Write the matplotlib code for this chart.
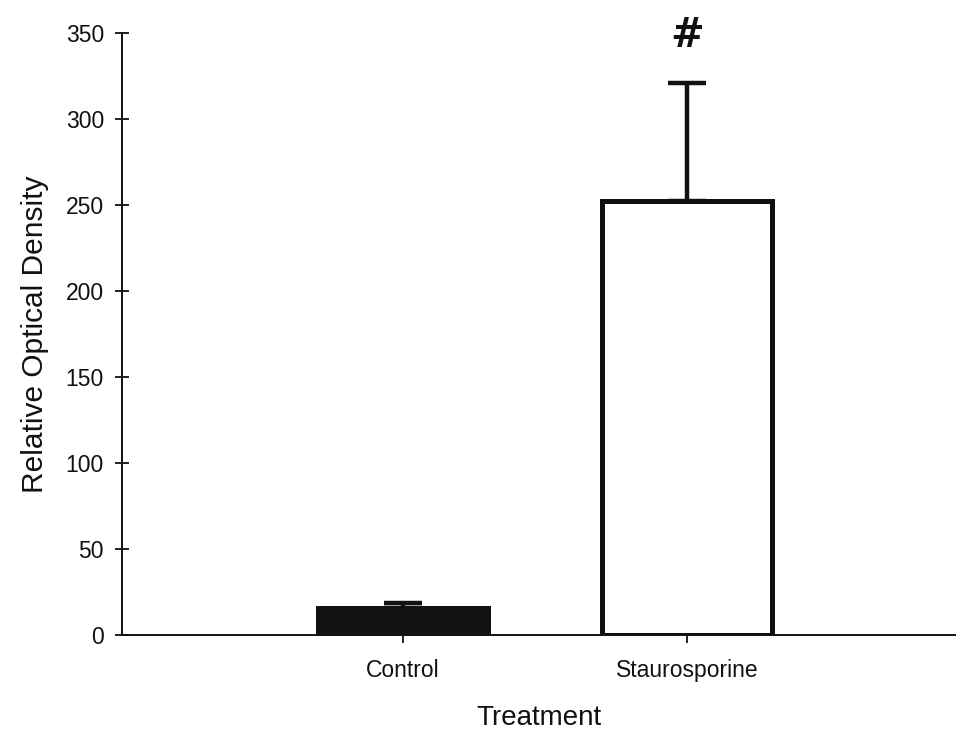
import numpy as np
import matplotlib
matplotlib.use("Agg")
import matplotlib.pyplot as plt

plt.rcParams['font.family'] = ['Liberation Sans', 'DejaVu Sans']

# group means and upper SEM
groups = ["Control", "Staurosporine"]
means = [15.7, 252.3]
errs = [3.0, 68.7]
colors = ["#111111", "white"]
yticks = [0, 50, 100, 150, 200, 250, 300, 350]

fig = plt.figure(figsize=(9.56, 7.32), dpi=100)
ax = fig.add_axes([0.1276, 0.1325, 0.8715, 0.8224])

x = np.array([1, 2])
for xi, m, e, c in zip(x, means, errs, colors):
    ax.bar(xi, m, width=0.6, color=c, edgecolor="#111111", linewidth=3.6, zorder=2)
    # drawn under the bar so only the upper whisker shows
    ax.errorbar(xi, m, yerr=[[0], [e]], fmt="none", ecolor="#111111",
                elinewidth=3.2, capsize=13.5, capthick=3.2, zorder=1.5)

# significance marker over the treated group
ax.text(x[1], means[1] + errs[1] + 27, "#", ha="center", va="center",
        fontsize=29, fontweight="bold", color="#111111", clip_on=False,
        family="DejaVu Sans")

ax.set_xlim(0.011, 2.944)
ax.set_ylim(0, 350)
ax.set_yticks(yticks)
ax.set_xticks(x)
ax.set_xticklabels(groups)

for s in ["top", "right"]:
    ax.spines[s].set_visible(False)
for s in ["left", "bottom"]:
    ax.spines[s].set_linewidth(1.4)
    ax.spines[s].set_color("#111111")
    ax.spines[s].set_zorder(4)

ax.tick_params(axis="y", direction="inout", length=10, width=1.3, pad=8,
               labelsize=16.5, colors="#111111")
ax.tick_params(axis="x", direction="inout", length=12, width=1.3, pad=11,
               labelsize=16.5, colors="#111111")

ax.set_ylabel("Relative Optical Density", fontsize=21.5, color="#111111", labelpad=12)
ax.set_xlabel("Treatment", fontsize=20, color="#111111", labelpad=17)

fig.savefig("out.png", dpi=100)
